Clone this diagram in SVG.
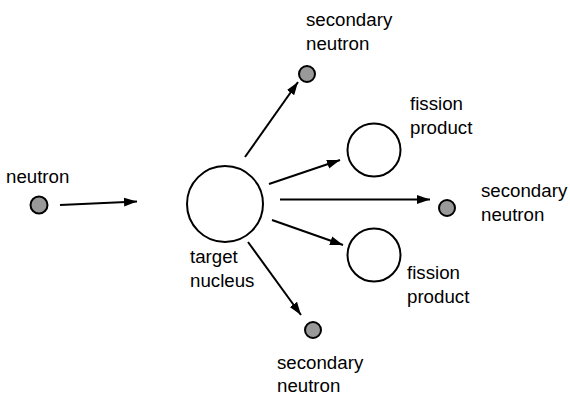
<svg xmlns="http://www.w3.org/2000/svg" width="570" height="395" viewBox="0 0 570 395">
<defs>
<marker id="ah" markerUnits="userSpaceOnUse" markerWidth="14" markerHeight="10" refX="13" refY="5" orient="auto">
<path d="M0,0.5 L13,5 L0,9.5 z" fill="#000"/>
</marker>
<style>
text{font-family:"Liberation Sans",Arial,sans-serif;font-size:18.7px;fill:#000}
.n{fill:#999;stroke:#000;stroke-width:2}
.b{fill:#fff;stroke:#000;stroke-width:2}
.c line{stroke:#000;stroke-width:2;marker-end:url(#ah)}
</style>
</defs>
<rect width="570" height="395" fill="#fff"/>
<g id="neutron"><circle class="n" cx="39" cy="205" r="8.5"/><text x="6" y="183">neutron</text></g>
<g id="target"><circle class="b" cx="225" cy="204" r="38"/><text x="190" y="263">target</text><text x="190" y="287">nucleus</text></g>
<g id="sec-top"><circle class="n" cx="307" cy="74" r="8"/><text x="306" y="26">secondary</text><text x="306" y="50">neutron</text></g>
<g id="fp-top"><circle class="b" cx="374" cy="150" r="26.5"/><text x="410" y="110">fission</text><text x="410" y="134">product</text></g>
<g id="sec-right"><circle class="n" cx="447" cy="208" r="8"/><text x="481" y="197">secondary</text><text x="481" y="221">neutron</text></g>
<g id="fp-bottom"><circle class="b" cx="374" cy="255" r="26.5"/><text x="407" y="279">fission</text><text x="407" y="303">product</text></g>
<g id="sec-bottom"><circle class="n" cx="313" cy="330" r="8"/><text x="277" y="369">secondary</text><text x="277" y="392">neutron</text></g>
<g id="connectors" class="c">
<line x1="60" y1="205" x2="137" y2="201.5"/>
<line x1="245" y1="157" x2="298" y2="82"/>
<line x1="269" y1="184" x2="340" y2="160"/>
<line x1="280" y1="199.5" x2="430" y2="199.5"/>
<line x1="272" y1="220" x2="343" y2="245"/>
<line x1="248" y1="242" x2="301" y2="315"/>
</g>
</svg>
